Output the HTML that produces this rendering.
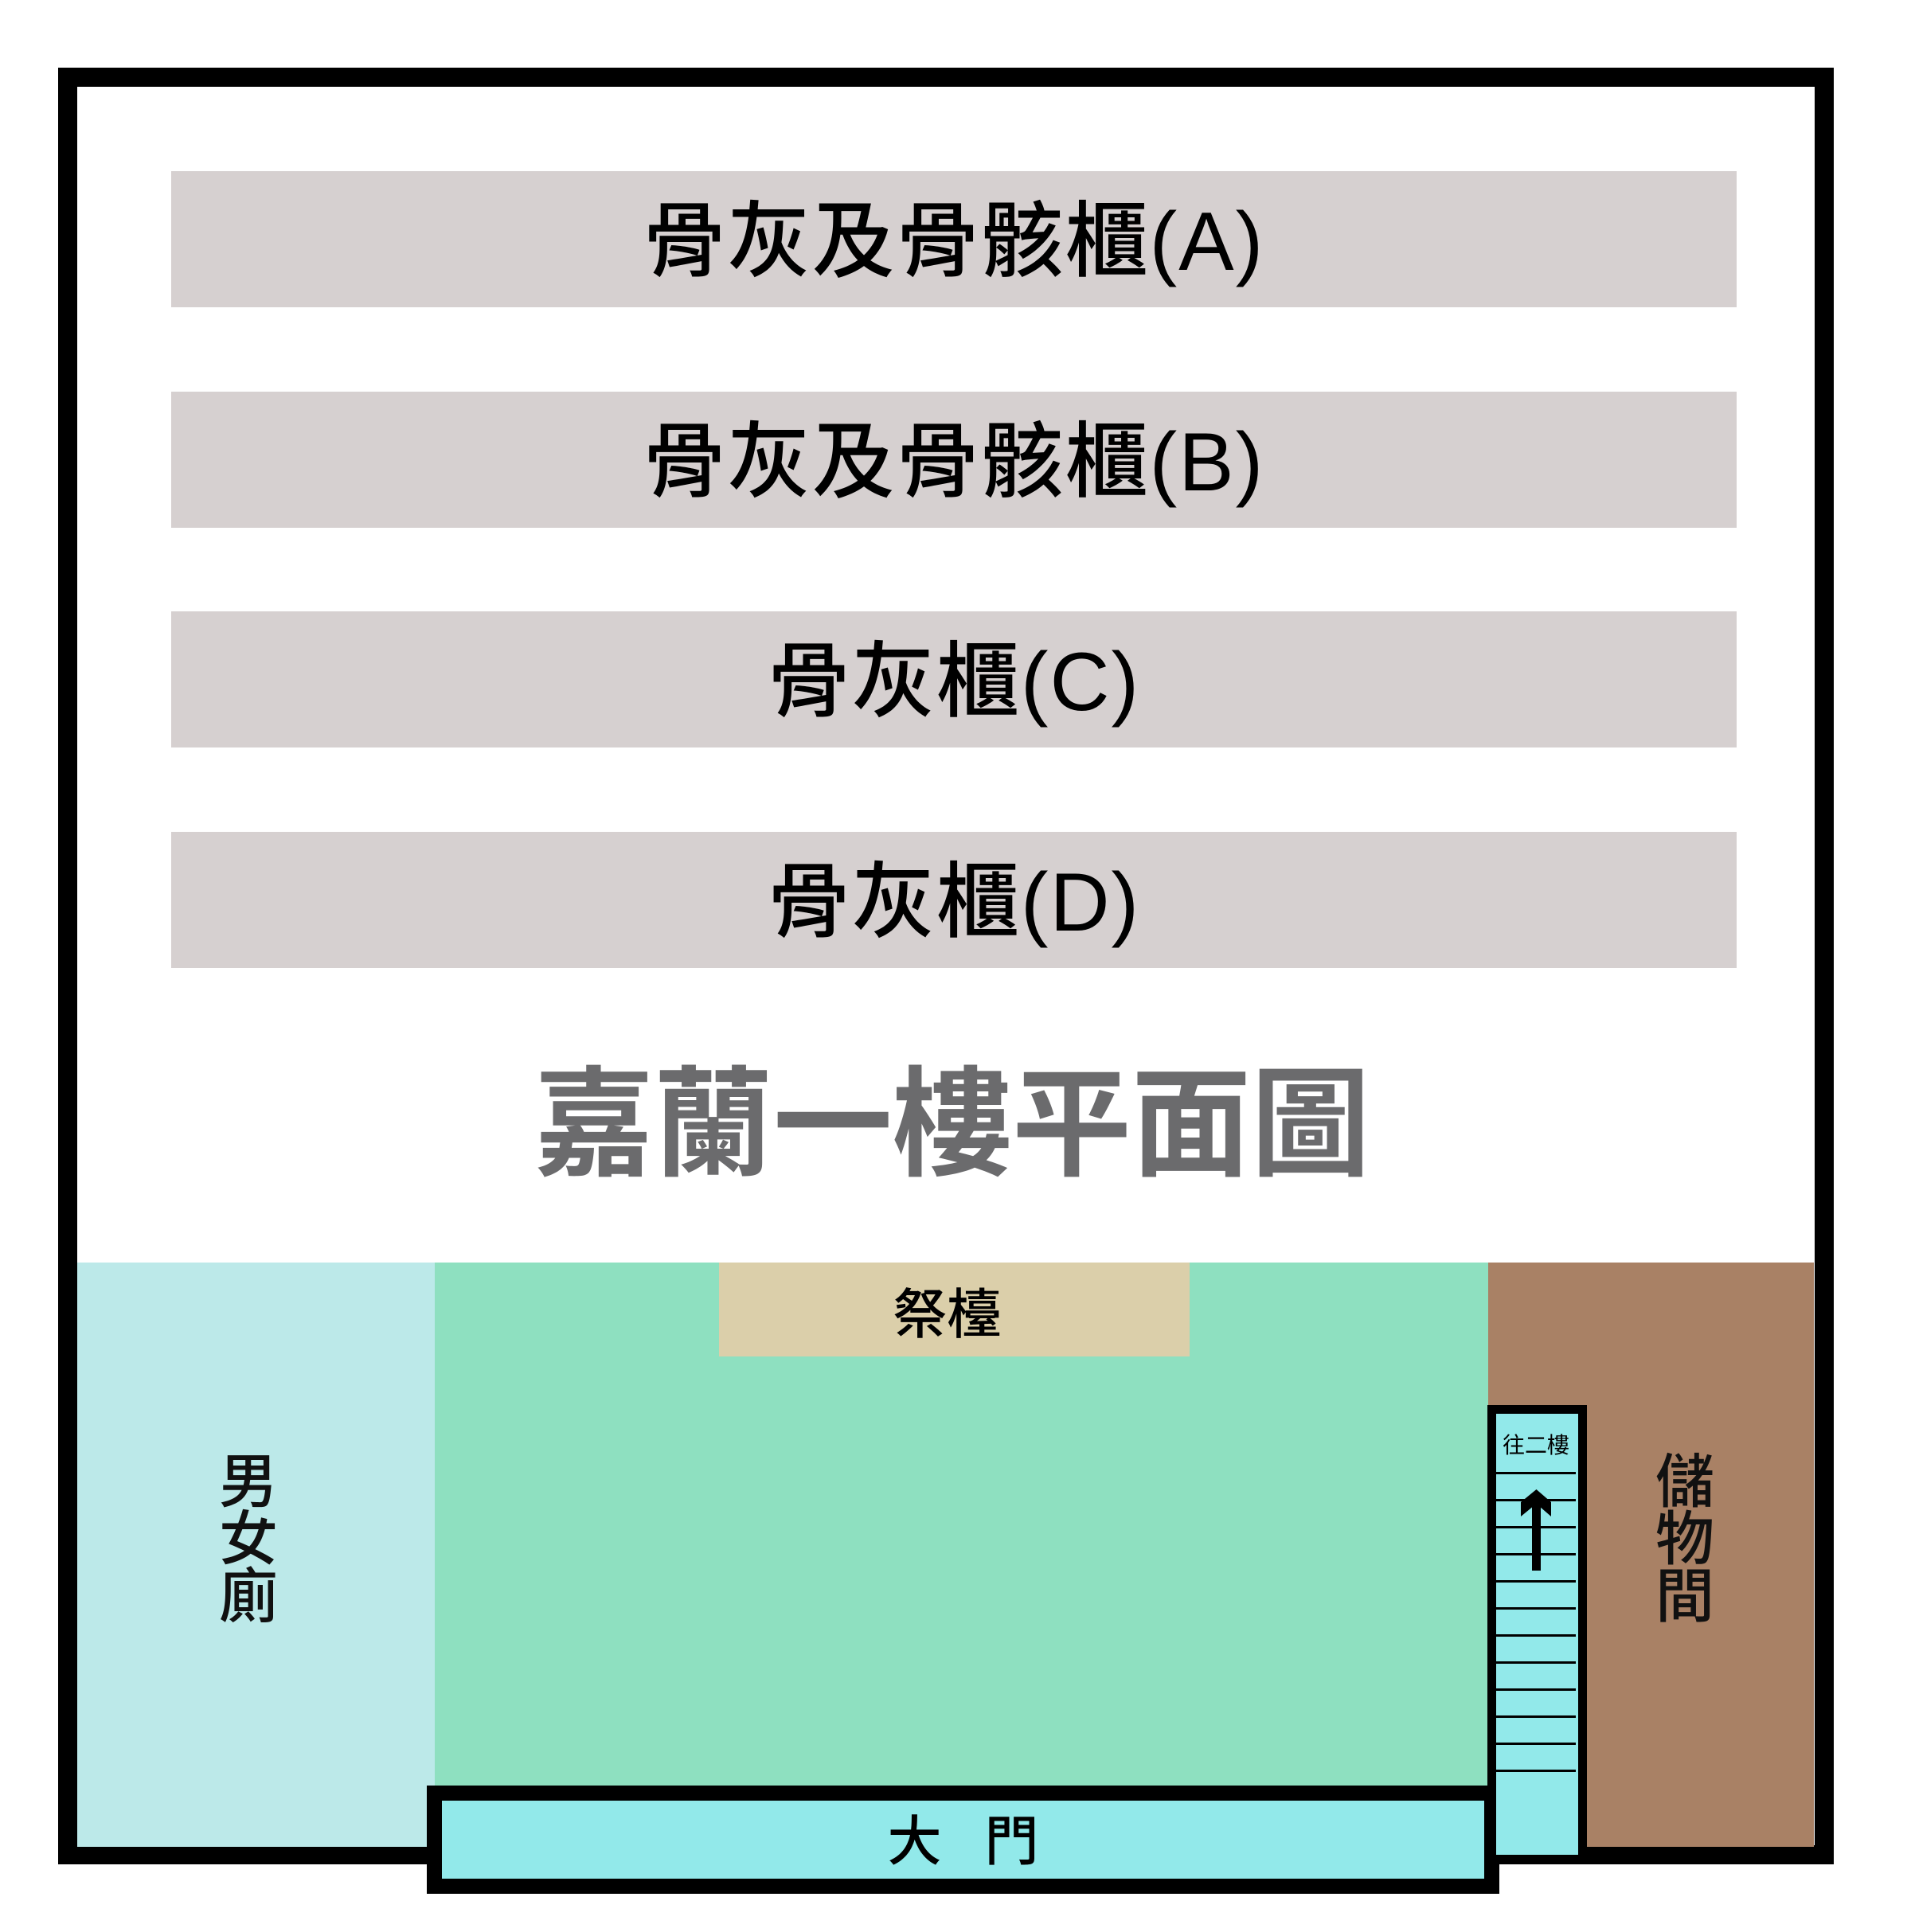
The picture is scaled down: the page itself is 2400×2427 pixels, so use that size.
<!DOCTYPE html>
<html><head><meta charset="utf-8">
<style>
html,body{margin:0;padding:0;background:#fff;}
body{width:2400px;height:2427px;position:relative;overflow:hidden;font-family:"Liberation Sans","Noto Sans CJK TC",sans-serif;}
.a{position:absolute;box-sizing:border-box;}
.bar{left:215px;width:1966px;height:171px;background:#d6d0d0;display:flex;align-items:center;justify-content:center;font-size:104px;color:#000;font-weight:500;padding-bottom:14px;letter-spacing:2px;}
.ln{position:absolute;left:1879px;width:100px;height:3px;background:#000;}
.v{display:flex;flex-direction:column;align-items:center;font-size:74px;line-height:72px;color:#111;font-weight:500;}
</style></head><body>
<div class="a" style="left:73px;top:85px;width:2230px;height:2257px;border:24px solid #000;background:#fff;"></div>
<div class="a bar" style="top:215px;">骨灰及骨骸櫃(A)</div>
<div class="a bar" style="top:492px;">骨灰及骨骸櫃(B)</div>
<div class="a bar" style="top:768px;">骨灰櫃(C)</div>
<div class="a bar" style="top:1045px;">骨灰櫃(D)</div>
<div class="a" style="left:0;width:2400px;top:1310px;height:180px;display:flex;align-items:center;justify-content:center;font-size:150px;font-weight:bold;color:#6b6b6d;padding-right:8px;">嘉蘭一樓平面圖</div>

<div class="a" style="left:97px;top:1586px;width:449px;height:734px;background:#bce9e9;"></div>
<div class="a" style="left:546px;top:1586px;width:1323px;height:700px;background:#8ee0c0;"></div>
<div class="a" style="left:1869px;top:1586px;width:409px;height:734px;background:#a98165;"></div>
<div class="a" style="left:903px;top:1586px;width:591px;height:118px;background:#dbcfaa;display:flex;align-items:center;justify-content:center;font-size:68px;font-weight:500;padding-right:18px;">祭檯</div>

<div class="a v" style="left:262px;top:1826px;width:100px;"><span>男</span><span>女</span><span>廁</span></div>
<div class="a v" style="left:2066px;top:1826px;width:100px;"><span>儲</span><span>物</span><span>間</span></div>

<div class="a" style="left:536px;top:2243px;width:1347px;height:136px;border:19px solid #000;background:#92e9ea;display:flex;align-items:center;justify-content:center;font-size:68px;font-weight:500;letter-spacing:54px;padding-left:54px;padding-bottom:8px;">大門</div>

<div class="a" style="left:1868px;top:1765px;width:125px;height:577px;border:11px solid #000;border-bottom-width:12px;background:#92e9ea;"></div>
<div class="a" style="left:1879px;top:1798px;width:100px;text-align:center;font-size:28px;line-height:36px;">往二樓</div>
<div class="ln" style="top:1849px"></div><div class="ln" style="top:1883px"></div>
<div class="ln" style="top:1917px"></div><div class="ln" style="top:1951px"></div>
<div class="ln" style="top:1985px"></div><div class="ln" style="top:2019px"></div>
<div class="ln" style="top:2053px"></div><div class="ln" style="top:2087px"></div>
<div class="ln" style="top:2121px"></div><div class="ln" style="top:2155px"></div>
<div class="ln" style="top:2189px"></div><div class="ln" style="top:2223px"></div>
<svg class="a" style="left:1900px;top:1865px" width="60" height="115" viewBox="1900 1865 60 115">
<rect x="1924" y="1884" width="11" height="89" fill="#000"/>
<polygon points="1929.5,1871 1948,1887 1948,1905 1929.5,1889 1910,1905 1910,1887" fill="#000"/>
</svg>
</body></html>
